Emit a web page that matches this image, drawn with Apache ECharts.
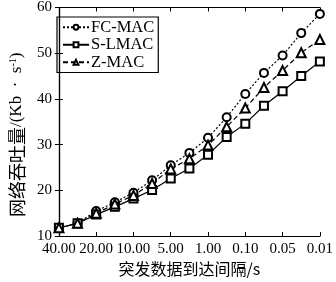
<!DOCTYPE html>
<html>
<head>
<meta charset="utf-8">
<script src="https://cdn.jsdelivr.net/npm/echarts@6/dist/echarts.min.js"></script>
<style>
  html, body { margin: 0; padding: 0; background: #fff; }
  #chart { width: 336px; height: 282px; }
</style>
</head>
<body>
<div id="chart"></div>
<script>
// x 轴刻度标签（每两个数据点一个刻度）
var xLabels = ['40.00', '20.00', '10.00', '5.00', '1.00', '0.10', '0.05', '0.01'];
var seriesNames = ['FC-MAC', 'S-LMAC', 'Z-MAC'];
// 各协议网络吞吐量 (Kb/s)，共 15 个点
var fcMac = [11.8, 12.8, 15.5, 17.4, 19.5, 22.2, 25.5, 28.2, 31.5, 36.0, 41.1, 45.7, 49.5, 54.4, 58.6];
var slMac = [11.8, 12.8, 14.7, 16.4, 18.2, 20.1, 22.6, 24.8, 27.8, 31.7, 34.6, 38.5, 41.7, 45.0, 48.2];
var zMac = [11.8, 12.8, 15.0, 17.0, 18.9, 21.5, 24.7, 26.9, 29.9, 33.9, 38.0, 42.5, 46.2, 50.1, 53.0];

var serif = '"Liberation Serif", "Noto Sans CJK SC", serif';
var cjk = '"Noto Sans CJK SC", "Liberation Serif", serif';

function toPairs(arr) {
  return arr.map(function (v, i) { return [i, v]; });
}

var chart = echarts.init(document.getElementById('chart'), null, { renderer: 'canvas' });

var axisLine = { show: true, lineStyle: { color: '#000', width: 1.2 } };
var tick = { show: true, inside: true, length: 4, lineStyle: { color: '#000', width: 1 } };

chart.setOption({
  animation: false,
  grid: { left: 47, right: 14, top: 5, bottom: 37 },
  legend: {
    orient: 'vertical',
    left: 57,
    top: 17,
    padding: [2, 4, 2, 5],
    itemGap: 1,
    itemWidth: 26,
    itemHeight: 6,
    borderColor: '#000',
    borderWidth: 1.2,
    borderRadius: 0,
    data: seriesNames,
    textStyle: { fontFamily: serif, fontSize: 16.5, color: '#000', padding: [0, 0, 0, -3] }
  },
  xAxis: [{
    type: 'value',
    min: 0,
    max: 14,
    interval: 2,
    name: '突发数据到达间隔/s',
    nameLocation: 'middle',
    nameGap: 20,
    nameTextStyle: { fontFamily: cjk, fontSize: 16, color: '#000' },
    axisLine: axisLine,
    axisTick: tick,
    splitLine: { show: false },
    axisLabel: {
      margin: 5,
      fontFamily: serif,
      fontSize: 15,
      color: '#000',
      formatter: function (v) { return xLabels[v / 2]; }
    }
  }, {
    type: 'value',
    position: 'top',
    min: 0,
    max: 14,
    interval: 2,
    axisLine: axisLine,
    axisTick: tick,
    axisLabel: { show: false },
    splitLine: { show: false }
  }],
  yAxis: [{
    type: 'value',
    min: 10,
    max: 60,
    interval: 10,
    name: '{t|网络吞吐量}{l|/(Kb  ·  s}{sup|-1}{l|)}',
    nameLocation: 'middle',
    nameGap: 25,
    nameTextStyle: {
      fontFamily: cjk,
      fontSize: 16,
      color: '#000',
      padding: [0, 26, 0, 0],
      rich: {
        t: { fontFamily: cjk, fontSize: 18, color: '#000' },
        l: { fontFamily: serif, fontSize: 17, color: '#000' },
        sup: { fontFamily: serif, fontSize: 10, color: '#000', verticalAlign: 'top' }
      }
    },
    axisLine: axisLine,
    axisTick: tick,
    splitLine: { show: false },
    axisLabel: { margin: 7, fontFamily: serif, fontSize: 15, color: '#000' }
  }, {
    type: 'value',
    position: 'right',
    min: 10,
    max: 60,
    interval: 10,
    axisLine: axisLine,
    axisTick: tick,
    axisLabel: { show: false },
    splitLine: { show: false }
  }],
  series: [{
    name: 'FC-MAC',
    type: 'line',
    data: toPairs(fcMac),
    symbol: 'emptyCircle',
    symbolSize: 8,
    lineStyle: { color: '#000', width: 1.2, type: [2, 2] },
    itemStyle: { color: '#000', borderWidth: 1, borderColor: '#000' }
  }, {
    name: 'S-LMAC',
    type: 'line',
    data: toPairs(slMac),
    symbol: 'emptyRect',
    symbolSize: 8,
    lineStyle: { color: '#000', width: 1.2, type: 'solid' },
    itemStyle: { color: '#000', borderWidth: 1, borderColor: '#000' }
  }, {
    name: 'Z-MAC',
    type: 'line',
    data: toPairs(zMac),
    symbol: 'emptyTriangle',
    symbolSize: 9,
    lineStyle: { color: '#000', width: 1.2, type: [5, 3] },
    itemStyle: { color: '#000', borderWidth: 1, borderColor: '#000' }
  }]
});
</script>
</body>
</html>
